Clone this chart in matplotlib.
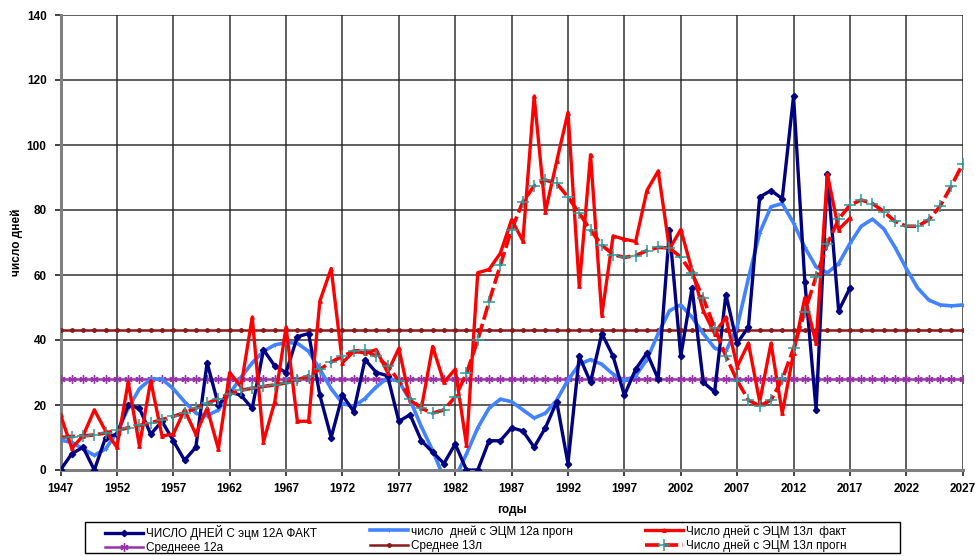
import matplotlib
matplotlib.use("Agg")
import matplotlib.pyplot as plt
from matplotlib.patches import Rectangle

plt.rcParams['font.family'] = ['Liberation Sans', 'DejaVu Sans']

years = list(range(1947, 2028))
years_fact = list(range(1947, 2018))

# Число дней с ЭЦМ 12а, факт (1947-2017)
fact_12a = [0, 5, 7, 0, 10, 11, 20, 19, 11, 15,
            9, 3, 7, 33, 20, 24, 23, 19, 37, 32,
            30, 41, 42, 23, 10, 23, 18, 34, 30, 29,
            15, 17, 9, 5.5, 2, 8, 0, 0, 9, 9,
            13, 12, 7, 13, 21, 2, 35, 27, 42, 35,
            23, 31, 36, 28, 74, 35, 56, 27, 24, 54,
            39, 44, 84, 86, 83.5, 115, 58, 18.5, 91, 49,
            56]

# Число дней с ЭЦМ 13л, факт (1947-2017)
fact_13l = [17, 6.7, 10.5, 18.5, 12, 7, 27, 7.5, 27.5, 10.5,
            11, 18.5, 11, 19, 6.5, 30, 25.6, 47, 8.7, 21,
            44, 15, 15, 52, 62, 33, 36.5, 36, 37, 30,
            37.4, 21.5, 19, 38, 27, 31, 7.7, 60.7, 61.7, 66.7,
            77, 70.5, 115, 79.5, 95, 110, 56.5, 97, 47.7, 72,
            71, 70.3, 86, 92, 68, 74, 61.5, 49, 42, 47,
            31.8, 39, 21, 39, 17.5, 36, 53, 39, 91, 74,
            77.5]

# Прогноз 12а (1947-2027)
prog_12a = [9.2, 8.5, 6.5, 4.5, 6.5, 11.5, 19, 25, 28, 28,
            25, 21, 17.5, 16.7, 18.5, 23.5, 28.5, 33, 36.5, 38.5,
            39.2, 39, 36.5, 31, 25, 20.5, 19.5, 22, 25.6, 28.3,
            27.3, 21.5, 13.3, 6, -2.5, -2.5, 5, 13, 19, 21.8,
            21, 18.5, 16, 17.5, 21.5, 27.7, 32.5, 34, 32.5, 29.5,
            27.5, 29, 34, 42, 49, 50.8, 47, 42, 37.5, 36.5,
            44, 59, 73, 81, 82, 76, 68.5, 62.5, 60.7, 63.5,
            69.7, 75, 77.2, 74.2, 68.5, 62, 56, 52.3, 50.8, 50.5,
            50.8]

# Прогноз 13л (1947-2027)
prog_13l = [10, 10.3, 10.5, 10.8, 11.4, 12.2, 13, 13.7, 14.5, 15.5,
            16.5, 17.6, 19, 20.5, 22, 23.5, 24.5, 25.2, 25.7, 26.2,
            26.8, 27.6, 29, 31, 33.2, 35, 36.6, 36.8, 35, 32,
            27.5, 22, 19, 17.5, 18.5, 22.5, 29.7, 40, 51.8, 63,
            74, 82.5, 87.4, 89.2, 88.2, 84, 79, 73.8, 69.2, 66.3,
            65.4, 66, 67.5, 68.5, 68.3, 65.5, 60.5, 52.8, 43.8, 35,
            27.5, 21.5, 19.7, 21.5, 27.9, 37.4, 48.7, 59.5, 69.5, 77.2,
            81.5, 83.1, 82, 79.5, 76.5, 75, 75, 77, 81.2, 87.4,
            94.2]

mean_12a = 28
mean_13l = 43

labels = ["ЧИСЛО ДНЕЙ С эцм 12А ФАКТ",
          "число  дней с ЭЦМ 12а прогн",
          "Число дней с ЭЦМ 13л  факт",
          "Среднеее 12а",
          "Среднее 13л",
          "Число дней с ЭЦМ 13л прогн"]

W, H = 975, 556
fig = plt.figure(figsize=(W / 100, H / 100), dpi=100)
ax = fig.add_axes([60.5 / W, 1 - 470 / H, (962.7 - 60.5) / W, (470 - 15) / H])

c_dark = '#000080'
c_light = '#4283ff'
c_red = '#ff0000'
c_purple = '#9933aa'
c_brown = '#8b1a1a'
c_teal = '#2a9d9d'

h4, = ax.plot(years, [mean_12a] * len(years), color=c_purple, lw=1.8,
              marker=(6, 2, 0), ms=6, mew=1.0, mec=c_purple, zorder=3)
h5, = ax.plot(years, [mean_13l] * len(years), color=c_brown, lw=1.8,
              marker='o', ms=2.5, mec=c_brown, mfc=c_brown, zorder=3)
h2, = ax.plot(years, prog_12a, color=c_light, lw=2.6, marker='+', ms=3,
              mew=0.8, zorder=4)
h1, = ax.plot(years_fact, fact_12a, color=c_dark, lw=2.4, marker='D', ms=3.2,
              mfc=c_dark, mec=c_dark, zorder=5)
h6, = ax.plot(years, prog_13l, color=c_red, lw=2.6, ls=(0, (4, 1.2)),
              marker='+', ms=8, mew=1.1, mec=c_teal, zorder=6)
h3, = ax.plot(years_fact, fact_13l, color=c_red, lw=2.4, marker='^', ms=2.5,
              mfc=c_red, mec=c_red, zorder=5)

ax.set_xlim(1947, 2027)
ax.set_ylim(0, 140)
ax.set_xticks(range(1947, 2028, 5))
ax.set_yticks(range(0, 141, 20))
ax.grid(True, color='#222222', lw=1.2, alpha=0.85)
ax.set_axisbelow(True)
for s in ('top', 'right'):
    ax.spines[s].set_visible(False)
for s in ('left', 'bottom'):
    ax.spines[s].set_color('#808080')
    ax.spines[s].set_linewidth(2.2)
ax.tick_params(axis='both', direction='out', length=4, width=1.2,
               color='#222222', labelsize=8.5)
ax.tick_params(axis='y', pad=6)
ax.tick_params(axis='x', pad=5)
for t in ax.get_xticklabels() + ax.get_yticklabels():
    t.set_fontweight('bold')

ax.set_xlabel("годы", fontsize=8.5, fontweight='bold', labelpad=7)
ax.set_ylabel("число дней", fontsize=8.5, fontweight='bold', labelpad=3)

# legend: frame plus three single-column blocks
fig.add_artist(Rectangle((85 / W, 1 - 553 / H), (900 - 85) / W, 31 / H,
                         transform=fig.transFigure, fill=False,
                         edgecolor='black', lw=1.0))
columns = [((h1, h4), (labels[0], labels[3]), 105),
           ((h2, h5), (labels[1], labels[4]), 370),
           ((h3, h6), (labels[2], labels[5]), 645)]
for hs, ls, x0 in columns:
    fig.legend(hs, ls, loc='upper left',
               bbox_to_anchor=(x0 / W, 1 - 525 / H),
               frameon=False, fontsize=8.5, borderpad=0, borderaxespad=0,
               labelspacing=0.2, handlelength=3.2, handletextpad=0.25)

fig.savefig("out.png", dpi=100, facecolor='white')
